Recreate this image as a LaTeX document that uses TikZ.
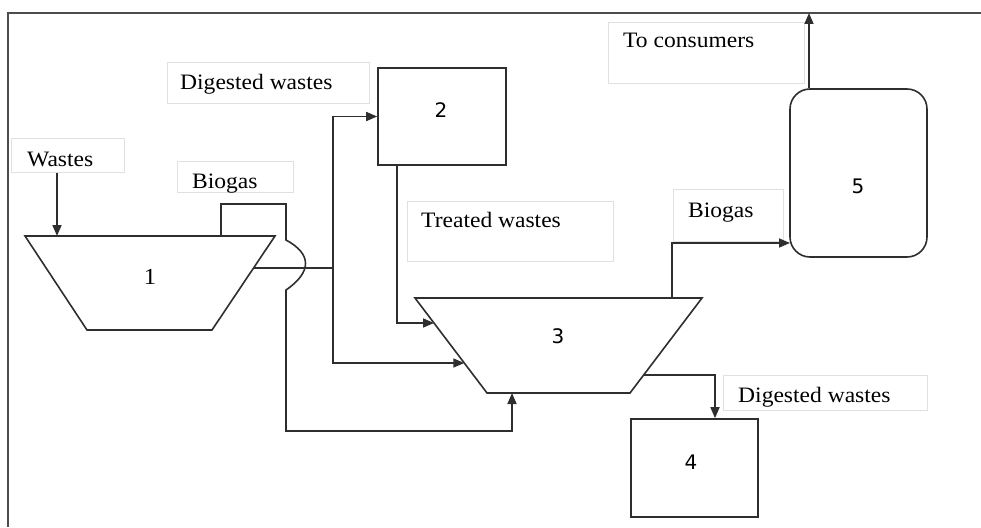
\documentclass[tikz,border=0pt]{standalone}
\usepackage{fontspec}
\setmainfont{Liberation Serif}[FakeStretch=1.07]
\newfontfamily\digitfont{DejaVu Sans}
\usetikzlibrary{arrows.meta}
\begin{document}
\begin{tikzpicture}[x=1pt,y=-1pt,
  ln/.style={draw=black!82, line width=1.6pt},
  arr/.style={ln, -{Triangle[length=11pt,width=9pt]}},
  frame/.style={draw=black!70, line width=2pt},
  lbox/.style={draw=black!12, line width=0.7pt, fill=white, inner sep=0pt, anchor=north west},
  lbl/.style={anchor=base west, inner sep=0pt, font=\fontsize{22}{26}\selectfont},
  unitbox/.style={ln, fill=white, inner sep=0pt},
  digit/.style={inner sep=0pt, font=\digitfont\fontsize{20}{24}\selectfont}
]
\useasboundingbox (0,0) rectangle (981,527);

% frame
\draw[frame] (981,13) -- (8,13) -- (8,527);

% label boxes
\node[lbox, minimum width=113pt, minimum height=34pt] (bw) at (11,138) {};
\node[lbox, minimum width=202pt, minimum height=41pt] (bd1) at (167,62) {};
\node[lbox, minimum width=116pt, minimum height=31pt] (bb1) at (177,161) {};
\node[lbox, minimum width=196pt, minimum height=61pt] (bc) at (608,22) {};
\node[lbox, minimum width=206pt, minimum height=60pt] (bt) at (407,201) {};
\node[lbox, minimum width=110pt, minimum height=52pt] (bb2) at (673,189) {};
\node[lbox, minimum width=204pt, minimum height=35pt] (bd2) at (723,375) {};

\node[lbl] (tw) at (27,166) {Wastes};
\node[lbl] (td1) at (180,89) {Digested wastes};
\node[lbl] (tb1) at (192,188) {Biogas};
\node[lbl] (tc) at (623,48) {To consumers};
\node[lbl] (tt) at (421,227) {Treated wastes};
\node[lbl] (tb2) at (688,217) {Biogas};
\node[lbl] (td2) at (738,402) {Digested wastes};

% digesters (trapezoids)
\draw[ln] (25,236) -- (275,236) -- (212,330) -- (87,330) -- cycle;
\draw[ln] (415,298) -- (702,298) -- (630,393) -- (487,393) -- cycle;
\node[inner sep=0pt, font=\fontsize{23}{26}\selectfont] (d1) at (150,277) {1};
\node[digit] (d3) at (558,336) {3};

\coordinate (t1in) at (57,236);
\coordinate (t1gas) at (221,236);
\coordinate (t1out) at (253.6,268);
\coordinate (t3a) at (434,323);
\coordinate (t3b) at (464.3,363);
\coordinate (t3c) at (512,393);
\coordinate (t3gas) at (672,298);
\coordinate (t3out) at (643.6,375);
\coordinate (j1) at (333,268);
\coordinate (top) at (809,13);
\coordinate (d4x) at (715,0);

% boxes
\node[unitbox, minimum width=128pt, minimum height=97pt] (n2) at (442,116.5) {};
\node[unitbox, minimum width=127pt, minimum height=98pt] (n4) at (694.5,468) {};
\node[unitbox, rounded corners=20pt, minimum width=137pt, minimum height=168pt] (n5) at (858.5,173) {};
\node[digit] (d2) at (441,110) {2};
\node[digit] (d4) at (691,462) {4};
\node[digit] (d5) at (858,186) {5};

\coordinate (n2o) at ([xshift=20pt]n2.south west);
\coordinate (n5in) at (790,243);

% connectors
\draw[arr] (bw.south -| t1in) -- (t1in);
\draw[arr] (t1gas) -- (221,204) -- (286,204) -- (286,240)
  .. controls (312,254) and (312,272) .. (286,290) -- (286,431) -| (t3c);
\draw[ln] (t1out) -- (j1);
\draw[arr] (j1) |- (n2.west);
\draw[arr] (j1) |- (t3b);
\draw[arr] (n2o) |- (t3a);
\draw[arr] (t3gas) |- (n5in);
\draw[arr] (n5.north -| top) -- (top);
\draw[arr] (t3out) -| (n4.north -| d4x);
\end{tikzpicture}
\end{document}
